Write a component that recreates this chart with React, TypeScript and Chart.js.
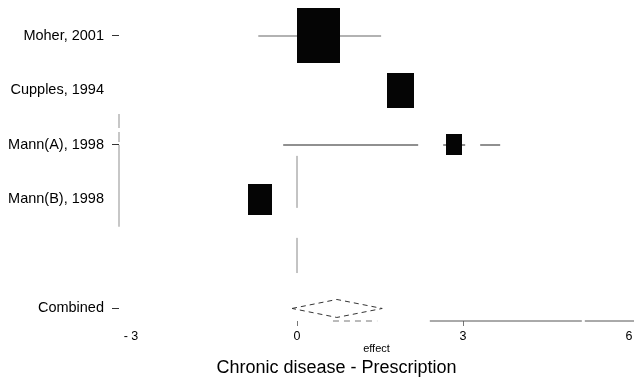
import React, { useEffect, useRef } from 'react';
import { Chart, registerables } from 'chart.js';

Chart.register(...registerables);

// ---- data ----
const studies = ['Moher, 2001', 'Cupples, 1994', 'Mann(A), 1998', 'Mann(B), 1998'];
const studyRows = [1, 2, 3, 4];
const effects = [0.39, 1.87, 2.84, -0.66];
const ciLow: (number | null)[] = [-0.7, null, -0.25, null];
const ciHigh: (number | null)[] = [1.52, null, 3.68, null];
const weights = [54, 21.5, 7.7, 16.9];
const combinedLabel = 'Combined';
const combinedRow = 6;
const combinedEffect = 0.72;
const combinedLow = -0.09;
const combinedHigh = 1.54;
const nullEffect = 0;
const xTickValues = [-3, 0, 3, 6];
const xTickLabels = ['- 3', '0', '3', '6'];
const titleText = 'Chronic disease - Prescription';
const xAxisTitle = 'effect';

// ---- styling ----
const FONT = "'Liberation Sans', Arial, Helvetica, sans-serif";
const X_MIN = -3.217;
const X_MAX = 6.09;
const Y_MIN = 0.34;
const Y_MAX = 6.23;
const BOX_W = 5.85; // px per sqrt(weight)
const BOX_H = 7.48;
const DIAMOND_HALF = 0.165;
const TICKED_ROWS = [1, 3, 6];
const CI_COLORS = ['#666', '#000', '#222', '#000'];
const CI_DASH: number[][] = [[], [], [135, 25, 22, 15, 20, 60], []];
const TITLE_LEFT = 39;

const rowTicks = [...studyRows, combinedRow];
const rowLabel = (v: number) => {
  const i = studyRows.indexOf(v);
  if (i >= 0) return studies[i];
  if (v === combinedRow) return combinedLabel;
  return '';
};

function makeBox(w: number, h: number) {
  const c = document.createElement('canvas');
  c.width = Math.round(w);
  c.height = Math.round(h);
  const g = c.getContext('2d')!;
  g.fillStyle = '#050505';
  g.fillRect(0, 0, c.width, c.height);
  return c;
}

const titleShift = {
  id: 'titleShift',
  afterLayout(chart: any) {
    const t = chart.titleBlock;
    if (t) {
      t.left = TITLE_LEFT;
      t.width = t.right - t.left;
    }
  },
};

export default function App() {
  const ref = useRef<HTMLCanvasElement | null>(null);

  useEffect(() => {
    if (!ref.current) return;
    const boxes = weights.map((w) => makeBox(BOX_W * Math.sqrt(w), BOX_H * Math.sqrt(w)));

    const line = (data: { x: number; y: number }[], color: string, width: number, dash: number[], order = 2) => ({
      type: 'scatter' as const,
      data,
      showLine: true,
      borderColor: color,
      borderWidth: width,
      borderDash: dash,
      pointRadius: 0,
      pointHoverRadius: 0,
      order,
      clip: false as any,
    });

    const ciSets = studies
      .map((s, i) =>
        ciLow[i] == null || ciHigh[i] == null
          ? null
          : line(
              [
                { x: ciLow[i] as number, y: studyRows[i] },
                { x: ciHigh[i] as number, y: studyRows[i] },
              ],
              CI_COLORS[i],
              1.1,
              CI_DASH[i]
            )
      )
      .filter(Boolean) as any[];

    const diamond = line(
      [
        { x: combinedLow, y: combinedRow },
        { x: combinedEffect, y: combinedRow - DIAMOND_HALF },
        { x: combinedHigh, y: combinedRow },
        { x: combinedEffect, y: combinedRow + DIAMOND_HALF },
        { x: combinedLow, y: combinedRow },
      ],
      '#333',
      1,
      [5, 4]
    );

    const nullLine = line(
      [
        { x: nullEffect, y: 3.2 },
        { x: nullEffect, y: 5.35 },
      ],
      '#888',
      1,
      [52, 30]
    );

    // faded axis fragments (as in the scanned original)
    const yAxisFrag = line(
      [
        { x: X_MIN, y: 2.43 },
        { x: X_MIN, y: 4.5 },
      ],
      '#aaa',
      1.3,
      [14, 4, 10, 3, 200]
    );
    const xAxisFrag1 = line(
      [
        { x: 0.65, y: Y_MAX },
        { x: 1.45, y: Y_MAX },
      ],
      '#777',
      1,
      [6, 5]
    );
    const xAxisFrag2 = line(
      [
        { x: 2.4, y: Y_MAX },
        { x: X_MAX, y: Y_MAX },
      ],
      '#555',
      1,
      [152, 3, 400]
    );

    const boxSet = {
      type: 'scatter' as const,
      data: effects.map((e, i) => ({ x: e, y: studyRows[i] })),
      pointStyle: (ctx: any) => boxes[ctx.dataIndex] ?? 'rect',
      pointRadius: 10,
      pointHoverRadius: 10,
      order: 0,
      clip: false as any,
    };

    const chart = new Chart(ref.current, {
      type: 'scatter',
      data: {
        datasets: [boxSet, ...ciSets, diamond, nullLine, yAxisFrag, xAxisFrag1, xAxisFrag2] as any,
      },
      plugins: [titleShift],
      options: {
        animation: false,
        responsive: false,
        events: [],
        devicePixelRatio: 1,
        layout: { autoPadding: false, padding: { left: 0, right: 0, top: 0, bottom: 0 } },
        plugins: {
          legend: { display: false },
          tooltip: { enabled: false },
          title: {
            display: true,
            position: 'bottom',
            text: titleText,
            color: '#000',
            font: { family: FONT, size: 18, weight: 'normal' as any },
            padding: { top: 0, bottom: 2.7 },
          },
        },
        scales: {
          x: {
            type: 'linear',
            min: X_MIN,
            max: X_MAX,
            afterBuildTicks: (s: any) => {
              s.ticks = xTickValues.map((v) => ({ value: v }));
            },
            afterFit: (s: any) => {
              s.height = 36.7;
              s.paddingLeft = 0;
              s.paddingRight = 0;
            },
            grid: {
              display: true,
              drawOnChartArea: false,
              drawTicks: true,
              tickLength: 5,
              tickWidth: 1,
              tickColor: (ctx: any) =>
                ctx.tick && (ctx.tick.value === 0 || ctx.tick.value === 3) ? '#777' : 'rgba(0,0,0,0)',
            },
            border: { display: false },
            ticks: {
              autoSkip: false,
              maxRotation: 0,
              padding: 3,
              color: '#000',
              font: { family: FONT, size: 12.5 },
              callback: (v: any) => {
                const i = xTickValues.indexOf(Number(v));
                return i >= 0 ? xTickLabels[i] : '';
              },
            },
            title: {
              display: true,
              text: xAxisTitle,
              color: '#000',
              font: { family: FONT, size: 11 },
              padding: { top: 0, bottom: 2 },
            },
          },
          y: {
            type: 'linear',
            reverse: true,
            min: Y_MIN,
            max: Y_MAX,
            afterBuildTicks: (s: any) => {
              s.ticks = rowTicks.map((v) => ({ value: v }));
            },
            afterFit: (s: any) => {
              s.width = 119;
              s.paddingTop = 0;
              s.paddingBottom = 0;
            },
            grid: {
              display: true,
              drawOnChartArea: false,
              drawTicks: true,
              tickLength: 7,
              tickWidth: 1,
              tickColor: (ctx: any) =>
                ctx.tick && TICKED_ROWS.includes(ctx.tick.value) ? '#333' : 'rgba(0,0,0,0)',
            },
            border: { display: false },
            ticks: {
              autoSkip: false,
              padding: 8,
              color: '#000',
              font: { family: FONT, size: 14.5 },
              callback: (v: any) => rowLabel(Number(v)),
            },
          },
        },
      },
    });
    return () => chart.destroy();
  }, []);

  return (
    <div style={{ position: 'absolute', left: 0, top: 0, width: 634, height: 382, background: '#fff' }}>
      <canvas ref={ref} width={634} height={382} style={{ display: 'block', width: 634, height: 382 }} />
    </div>
  );
}
